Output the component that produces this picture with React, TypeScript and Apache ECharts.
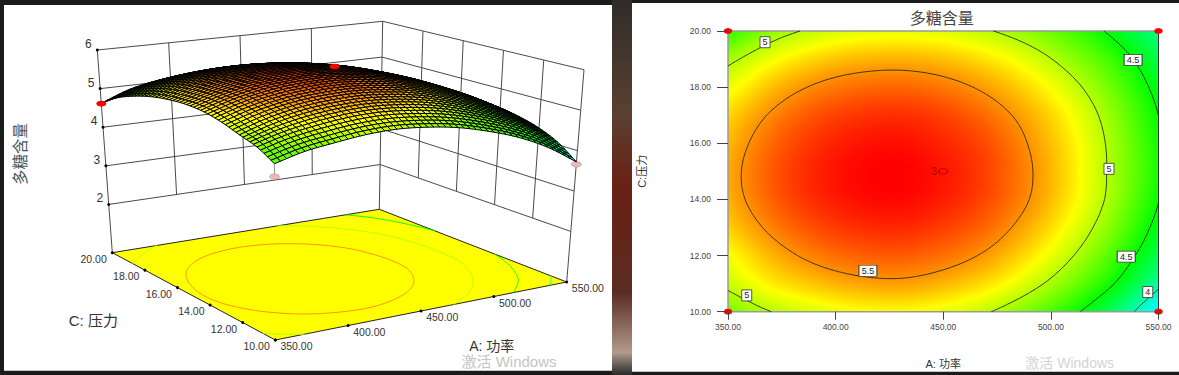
import React, { useEffect, useRef } from "react";
import * as echarts from "echarts";

const powerGrid = [350, 370, 390, 410, 430, 450, 470, 490, 510, 530, 550];
const pressureGrid = [10, 11, 12, 13, 14, 15, 16, 17, 18, 19, 20];
// polysaccharide content: one row per pressure, one column per power
const row10 = [4.82, 5.0, 5.1, 5.18, 5.2, 5.14, 5.02, 4.82, 4.56, 4.2, 3.72];
const row11 = [5.05, 5.24, 5.36, 5.44, 5.46, 5.4, 5.28, 5.08, 4.82, 4.49, 4.06];
const row12 = [5.18, 5.4, 5.55, 5.63, 5.65, 5.59, 5.47, 5.27, 5.01, 4.68, 4.28];
const row13 = [5.32, 5.54, 5.69, 5.77, 5.79, 5.73, 5.61, 5.41, 5.15, 4.82, 4.42];
const row14 = [5.41, 5.63, 5.78, 5.86, 5.88, 5.82, 5.7, 5.5, 5.24, 4.91, 4.51];
const row15 = [5.43, 5.65, 5.8, 5.88, 5.9, 5.84, 5.72, 5.52, 5.26, 4.93, 4.56];
const row16 = [5.39, 5.61, 5.76, 5.84, 5.86, 5.8, 5.69, 5.49, 5.24, 4.92, 4.54];
const row17 = [5.3, 5.52, 5.67, 5.75, 5.77, 5.72, 5.6, 5.42, 5.18, 4.87, 4.5];
const row18 = [5.15, 5.37, 5.52, 5.6, 5.62, 5.57, 5.46, 5.29, 5.06, 4.77, 4.42];
const row19 = [4.94, 5.16, 5.31, 5.39, 5.41, 5.37, 5.27, 5.11, 4.89, 4.63, 4.3];
const row20 = [4.62, 4.89, 5.04, 5.12, 5.14, 5.11, 5.02, 4.88, 4.68, 4.43, 4.13];
const table = [row10, row11, row12, row13, row14, row15, row16, row17, row18, row19, row20];

const contourLevels = [5.5, 5, 4.5, 4];
const colorStopValues = [3.1, 3.8, 4.5, 5.2, 5.9];
const colorStopRgb = [[0, 0, 255], [0, 255, 255], [0, 255, 0], [255, 255, 0], [255, 0, 0]];
const powerTicks = [350, 400, 450, 500, 550];
const pressureTicks = [10, 12, 14, 16, 18, 20];
const contentTicks = [2, 3, 4, 5, 6];
const contourLabelText = ["5", "5", "5.5", "4.5", "5", "4.5", "4"];
const contourLabelPower = [367.2, 358.7, 415, 538.2, 527, 535, 545];
const contourLabelPressure = [19.6, 10.58, 11.46, 18.97, 15.09, 11.96, 10.7];
const cornerPower = [350, 350, 550, 550];
const cornerPressure = [10, 20, 10, 20];
const pointPower3d = [350, 450, 350, 550];
const pointPressure3d = [20, 15, 10, 10];
const pointContent3d = [4.61, 5.92, 4.52, 3.66];
const pointAbove3d = [true, true, false, false];

const FONT = '"Liberation Sans", "Noto Sans CJK SC", sans-serif';
const Z_FLOOR = 0.75;
const Z_TOP = 6;
const MESH_COLOR_SHIFT = 0.12;
const floorQuad = [[275.3, 340], [566.7, 282], [379.3, 209.3], [112.3, 252.7]];
const topQuad = [[274.2, 112.6], [584, 69.7], [382.7, 21.3], [97.3, 50]];

function bilinear(q: number[][], u: number, v: number) {
  return [0, 1].map((n) =>
    q[0][n] * (1 - u) * (1 - v) + q[1][n] * u * (1 - v) + q[2][n] * u * v + q[3][n] * (1 - u) * v
  );
}
function project(power: number, pressure: number, z: number) {
  const u = (power - 350) / 200, v = (pressure - 10) / 10;
  const f = bilinear(floorQuad, u, v), t = bilinear(topQuad, u, v);
  const k = (z - Z_FLOOR) / (Z_TOP - Z_FLOOR);
  return [f[0] + (t[0] - f[0]) * k, f[1] + (t[1] - f[1]) * k];
}

function rampRgb(v: number) {
  const s = colorStopValues;
  if (v <= s[0]) return colorStopRgb[0];
  for (let i = 1; i < s.length; i++) {
    if (v <= s[i]) {
      const t = (v - s[i - 1]) / (s[i] - s[i - 1]);
      return colorStopRgb[i].map((c, n) => Math.round(colorStopRgb[i - 1][n] + (c - colorStopRgb[i - 1][n]) * t));
    }
  }
  return colorStopRgb[s.length - 1];
}
const rampCss = (v: number) => `rgb(${rampRgb(v).join(",")})`;

function spline(p0: number, p1: number, p2: number, p3: number, t: number) {
  return 0.5 * (2 * p1 + (p2 - p0) * t + (2 * p0 - 5 * p1 + 4 * p2 - p3) * t * t + (3 * p1 - p0 - 3 * p2 + p3) * t * t * t);
}
function cell(i: number, j: number): number {
  const n = powerGrid.length - 1, m = pressureGrid.length - 1;
  if (i < 0) return 2 * cell(0, j) - cell(1, j);
  if (i > n) return 2 * cell(n, j) - cell(n - 1, j);
  if (j < 0) return 2 * cell(i, 0) - cell(i, 1);
  if (j > m) return 2 * cell(i, m) - cell(i, m - 1);
  return table[j][i];
}
function surface(power: number, pressure: number) {
  const x = Math.min(9.9999, (power - 350) / 20), y = Math.min(9.9999, pressure - 10);
  const i = Math.floor(x), j = Math.floor(y);
  const rows = [-1, 0, 1, 2].map((dj) => spline(cell(i - 1, j + dj), cell(i, j + dj), cell(i + 1, j + dj), cell(i + 2, j + dj), x - i));
  return spline(rows[0], rows[1], rows[2], rows[3], y - j);
}

function contourSegments(rawLevel: number) {
  const level = rawLevel + 0.000731;
  const N = 120;
  const out: number[][] = [];
  const A = (i: number) => 350 + (200 * i) / N;
  const C = (j: number) => 10 + (10 * j) / N;
  for (let i = 0; i < N; i++) {
    for (let j = 0; j < N; j++) {
      const cs = [[i, j], [i + 1, j], [i + 1, j + 1], [i, j + 1]].map(([a, b]) => [A(a), C(b), surface(A(a), C(b))]);
      const pts: number[][] = [];
      for (let k = 0; k < 4; k++) {
        const p = cs[k], q = cs[(k + 1) % 4];
        if ((p[2] - level) * (q[2] - level) < 0) {
          const t = (level - p[2]) / (q[2] - p[2]);
          pts.push([p[0] + (q[0] - p[0]) * t, p[1] + (q[1] - p[1]) * t]);
        }
      }
      if (pts.length >= 2) out.push([pts[0][0], pts[0][1], pts[1][0], pts[1][1]]);
      if (pts.length === 4) out.push([pts[2][0], pts[2][1], pts[3][0], pts[3][1]]);
    }
  }
  return out;
}

function heatCanvas(w: number, h: number) {
  const cv = document.createElement("canvas");
  cv.width = w;
  cv.height = h;
  const ctx = cv.getContext("2d")!;
  const img = ctx.createImageData(w, h);
  for (let y = 0; y < h; y++) {
    for (let x = 0; x < w; x++) {
      const rgb = rampRgb(surface(350 + (200 * (x + 0.5)) / w, 20 - (10 * (y + 0.5)) / h));
      const o = (y * w + x) * 4;
      img.data[o] = rgb[0];
      img.data[o + 1] = rgb[1];
      img.data[o + 2] = rgb[2];
      img.data[o + 3] = 255;
    }
  }
  ctx.putImageData(img, 0, 0);
  return cv.toDataURL("image/png");
}

const LINE = "#4a4a4a";

function buildOption() {
  const segs = contourLevels.map(contourSegments);
  const heat = heatCanvas(431, 281);

  // back walls and corner posts
  const wallLines: number[][] = [];
  contentTicks.forEach((z) => {
    wallLines.push([350, 20, z, 550, 20, z]);
    wallLines.push([550, 20, z, 550, 10, z]);
  });
  powerTicks.slice(1, -1).forEach((a) => wallLines.push([a, 20, 2, a, 20, 6]));
  pressureTicks.slice(1, -1).forEach((c) => wallLines.push([550, c, 2, 550, c, 6]));
  wallLines.push([350, 20, Z_FLOOR, 350, 20, 6]);
  wallLines.push([550, 20, Z_FLOOR, 550, 20, 6]);
  wallLines.push([550, 10, Z_FLOOR, 550, 10, 6]);

  // mesh cells, far corner first
  const MESH = 50;
  const cells: number[][] = [];
  for (let i = MESH - 1; i >= 0; i--) for (let j = MESH - 1; j >= 0; j--) cells.push([i, j]);
  const gridA = (i: number) => 350 + (200 * i) / MESH;
  const gridC = (j: number) => 10 + (10 * j) / MESH;

  const tickDots: number[][] = [];
  contentTicks.forEach((z) => tickDots.push(project(350, 20, z)));
  pressureTicks.forEach((c) => tickDots.push(project(350, c, Z_FLOOR)));
  powerTicks.forEach((a) => tickDots.push(project(a, 10, Z_FLOOR)));

  const axisLabels: { t: string; p: number[] }[] = [];
  contentTicks.forEach((z) => {
    const p = project(350, 20, z);
    axisLabels.push({ t: String(z), p: [p[0] - 9, p[1] - 6] });
  });
  pressureTicks.forEach((c) => {
    const p = project(350, c, Z_FLOOR);
    axisLabels.push({ t: c.toFixed(2), p: [p[0] - 18.7, p[1] + 6.3] });
  });
  powerTicks.forEach((a) => {
    const p = project(a, 10, Z_FLOOR);
    axisLabels.push({ t: a.toFixed(2), p: [p[0] + 21.2, p[1] + 6.3] });
  });

  const none = { coordinateSystem: "none", silent: true, clip: false } as any;

  return {
    animation: false,
    backgroundColor: "#1b1b1b",
    title: {
      text: "多糖含量",
      left: 936.7,
      top: 5,
      textAlign: "center",
      textStyle: { fontFamily: FONT, fontSize: 16, fontWeight: "normal", color: "#444" },
    },
    grid: { left: 728, top: 31, width: 430.5, height: 280.7, containLabel: false },
    xAxis: {
      type: "value",
      min: 350,
      max: 550,
      interval: 50,
      z: 5,
      name: "A: 功率",
      nameLocation: "middle",
      nameGap: 47,
      nameTextStyle: { fontFamily: FONT, fontSize: 11, color: "#333" },
      axisLine: { show: false },
      axisTick: { length: 8, lineStyle: { color: "#444" } },
      axisLabel: { margin: 11, fontFamily: FONT, fontSize: 8.5, color: "#444", formatter: (v: number) => v.toFixed(2) },
      splitLine: { show: false },
    },
    yAxis: {
      type: "value",
      min: 10,
      max: 20,
      interval: 2,
      z: 5,
      name: "C:压力",
      nameLocation: "middle",
      nameGap: 81,
      nameTextStyle: { fontFamily: FONT, fontSize: 11, color: "#333" },
      axisLine: { show: false },
      axisTick: { length: 11, lineStyle: { color: "#444" } },
      axisLabel: { margin: 17, fontFamily: FONT, fontSize: 8.5, color: "#444", formatter: (v: number) => v.toFixed(2) },
      splitLine: { show: false },
    },
    graphic: [
      { type: "rect", z: -10, shape: { x: 612, y: 0, width: 20, height: 375 }, style: { fill: new echarts.graphic.LinearGradient(0, 0, 0, 1, [
        { offset: 0, color: "#2f2c2a" }, { offset: 0.3, color: "#5a4030" }, { offset: 0.5, color: "#6a2015" },
        { offset: 0.78, color: "#5a2c22" }, { offset: 0.94, color: "#b09a8c" }, { offset: 1, color: "#2a2a2a" },
      ]) } },
      { type: "rect", z: -9, shape: { x: 4, y: 5, width: 608, height: 365.7 }, style: { fill: "#fff" } },
      { type: "rect", z: -9, shape: { x: 632, y: 3, width: 547, height: 368.7 }, style: { fill: "#fff" } },
      { type: "text", z: 100, rotation: Math.PI / 2, x: 20, y: 154, style: { text: "多糖含量", font: `15.5px ${FONT}`, fill: "#46545f", align: "center", verticalAlign: "middle" } },
      { type: "text", z: 100, x: 93.3, y: 320, style: { text: "C: 压力", font: `15px ${FONT}`, fill: "#333", align: "center", verticalAlign: "middle" } },
      { type: "text", z: 100, x: 491.7, y: 346, style: { text: "A: 功率", font: `14px ${FONT}`, fill: "#333", align: "center", verticalAlign: "middle" } },
      { type: "text", z: 100, x: 509, y: 361, style: { text: "激活 Windows", font: `15px ${FONT}`, fill: "#c4c4c4", align: "center", verticalAlign: "middle" } },
      { type: "text", z: 100, x: 1069.7, y: 363, style: { text: "激活 Windows", font: `14px ${FONT}`, fill: "#d4d4d4", align: "center", verticalAlign: "middle" } },
    ],
    series: [
      // --- contour panel ---
      {
        type: "custom",
        silent: true,
        clip: false,
        z: 2,
        data: [[350, 10, 550, 20]],
        renderItem: (_p: any, api: any) => {
          const a = api.coord([api.value(0), api.value(3)]);
          const b = api.coord([api.value(2), api.value(1)]);
          return {
            type: "group",
            children: [
              { type: "image", style: { image: heat, x: a[0], y: a[1], width: b[0] - a[0], height: b[1] - a[1] } },
              { type: "line", shape: { x1: a[0], y1: a[1], x2: b[0], y2: a[1] }, style: { stroke: "#9a9a9a", lineWidth: 1.5 } },
              { type: "line", shape: { x1: a[0], y1: a[1], x2: a[0], y2: b[1] }, style: { stroke: "#9a9a9a", lineWidth: 1.5 } },
              { type: "line", shape: { x1: a[0], y1: b[1], x2: b[0], y2: b[1] }, style: { stroke: "#9a9a9a", lineWidth: 1.5 } },
              { type: "line", shape: { x1: b[0], y1: a[1], x2: b[0], y2: b[1] }, style: { stroke: "#333", lineWidth: 1 } },
            ],
          };
        },
      },
      {
        type: "custom",
        silent: true,
        z: 3,
        data: contourLevels.map((l) => [350, l]),
        renderItem: (p: any, api: any) => {
          let d = "";
          segs[p.dataIndex].forEach((s) => {
            const a = api.coord([s[0], s[1]]), b = api.coord([s[2], s[3]]);
            d += `M${a[0].toFixed(1)} ${a[1].toFixed(1)}L${b[0].toFixed(1)} ${b[1].toFixed(1)}`;
          });
          return { type: "path", shape: { pathData: d }, style: { fill: "none", stroke: "#2a2a1a", lineWidth: 0.9 } };
        },
      },
      {
        type: "scatter",
        silent: true,
        clip: false,
        z: 4,
        symbol: "rect",
        symbolSize: (_v: any, p: any) => [contourLabelText[p.dataIndex].length > 1 ? 18 : 10, 11],
        data: contourLabelPower.map((a, i) => [a, contourLabelPressure[i]]),
        itemStyle: { color: "#fff", borderColor: "#333", borderWidth: 0.8, opacity: 1 },
        label: {
          show: true,
          position: "inside",
          formatter: (p: any) => contourLabelText[p.dataIndex],
          fontFamily: FONT,
          fontSize: 9,
          color: "#222",
        },
      },
      {
        type: "scatter",
        silent: true,
        clip: false,
        z: 4,
        symbol: "circle",
        symbolSize: [8.5, 6],
        data: cornerPower.map((a, i) => [a, cornerPressure[i]]),
        itemStyle: { color: "#ff0000", opacity: 1 },
      },
      {
        type: "scatter",
        silent: true,
        clip: false,
        z: 4,
        symbol: "circle",
        symbolSize: [9, 5.5],
        data: [[450, 15]],
        itemStyle: { color: "rgba(0,0,0,0)", borderColor: "#a00000", borderWidth: 1, opacity: 1 },
        label: { show: true, position: "left", distance: 1, formatter: "3", fontFamily: FONT, fontSize: 10, color: "#b00000" },
      },
      // --- 3D panel ---
      {
        ...none,
        type: "custom",
        z: 2,
        data: wallLines,
        renderItem: (p: any) => {
          const l = wallLines[p.dataIndex];
          const a = project(l[0], l[1], l[2]), b = project(l[3], l[4], l[5]);
          return { type: "line", shape: { x1: a[0], y1: a[1], x2: b[0], y2: b[1] }, style: { stroke: LINE, lineWidth: 1 } };
        },
      },
      {
        ...none,
        type: "custom",
        z: 3,
        data: [[0]],
        renderItem: () => {
          const pts = floorQuad.map((q) => [q[0], q[1]]);
          return { type: "polygon", shape: { points: pts }, style: { fill: "#ffff00", stroke: "#222", lineWidth: 1 } };
        },
      },
      {
        ...none,
        type: "custom",
        z: 4,
        data: contourLevels.map((l) => [l]),
        renderItem: (p: any) => {
          let d = "";
          segs[p.dataIndex].forEach((s) => {
            const a = project(s[0], s[1], Z_FLOOR), b = project(s[2], s[3], Z_FLOOR);
            d += `M${a[0].toFixed(1)} ${a[1].toFixed(1)}L${b[0].toFixed(1)} ${b[1].toFixed(1)}`;
          });
          return { type: "path", shape: { pathData: d }, style: { fill: "none", stroke: rampCss(contourLevels[p.dataIndex]), lineWidth: 1 } };
        },
      },
      {
        ...none,
        type: "custom",
        z: 5,
        data: tickDots,
        renderItem: (p: any) => {
          const q = tickDots[p.dataIndex];
          return { type: "circle", shape: { cx: q[0], cy: q[1], r: 1.5 }, style: { fill: "#000" } };
        },
      },
      {
        ...none,
        type: "custom",
        z: 5,
        data: pointPower3d.map((a, i) => [a, pointPressure3d[i], pointContent3d[i]]),
        renderItem: (p: any) => {
          const i = p.dataIndex;
          if (pointAbove3d[i]) return null;
          const a = project(pointPower3d[i], pointPressure3d[i], pointContent3d[i]);
          const b = project(pointPower3d[i], pointPressure3d[i], surface(pointPower3d[i], pointPressure3d[i]));
          return {
            type: "group",
            children: [
              { type: "line", shape: { x1: a[0], y1: a[1], x2: b[0], y2: b[1] }, style: { stroke: "#999", lineWidth: 1 } },
              { type: "ellipse", shape: { cx: a[0], cy: a[1], rx: 5, ry: 2.8 }, style: { fill: "#f5b5b5", stroke: "#999", lineWidth: 0.6 } },
            ],
          };
        },
      },
      {
        ...none,
        type: "custom",
        z: 6,
        data: cells,
        renderItem: (p: any) => {
          const [i, j] = cells[p.dataIndex];
          const corners = [[i, j], [i + 1, j], [i + 1, j + 1], [i, j + 1]];
          let sum = 0;
          const pts = corners.map(([a, b]) => {
            const z = surface(gridA(a), gridC(b));
            sum += z;
            return project(gridA(a), gridC(b), z);
          });
          const mean = sum / 4;
          // the mesh in the reference reads more yellow than its floor ramp, and darker where it falls away
          const shift = mean > 5 ? MESH_COLOR_SHIFT * 1.6 : -MESH_COLOR_SHIFT * ((5 - mean) / 1.2) + MESH_COLOR_SHIFT * 1.6 * (1 - (5 - mean) / 0.3 > 0 ? 1 - (5 - mean) / 0.3 : 0);
          return { type: "polygon", shape: { points: pts }, style: { fill: rampCss(mean - shift), stroke: "#000", lineWidth: 1 } };
        },
      },
      {
        ...none,
        type: "custom",
        z: 7,
        data: pointPower3d.map((a, i) => [a, pointPressure3d[i], pointContent3d[i]]),
        renderItem: (p: any) => {
          const i = p.dataIndex;
          if (!pointAbove3d[i]) return null;
          const a = project(pointPower3d[i], pointPressure3d[i], pointContent3d[i]);
          return { type: "ellipse", shape: { cx: a[0], cy: a[1], rx: 5, ry: 2.8 }, style: { fill: "#ff0000" } };
        },
      },
      {
        ...none,
        type: "custom",
        z: 8,
        data: axisLabels.map((l) => [l.t]),
        renderItem: (p: any) => {
          const l = axisLabels[p.dataIndex];
          const big = l.t.length === 1;
          return {
            type: "text",
            style: {
              text: l.t,
              x: l.p[0],
              y: l.p[1],
              align: "center",
              verticalAlign: "middle",
              fontFamily: FONT,
              fontSize: big ? 12 : 10.5,
              fill: "#333",
            },
          };
        },
      },
    ],
  };
}

export default function App() {
  const ref = useRef<HTMLDivElement>(null);
  useEffect(() => {
    document.body.style.margin = "0";
    document.body.style.overflow = "hidden";
    const chart = echarts.init(ref.current!, undefined, { renderer: "svg" });
    chart.setOption(buildOption() as any);
    return () => chart.dispose();
  }, []);
  return <div ref={ref} style={{ width: 1179, height: 375 }} />;
}
